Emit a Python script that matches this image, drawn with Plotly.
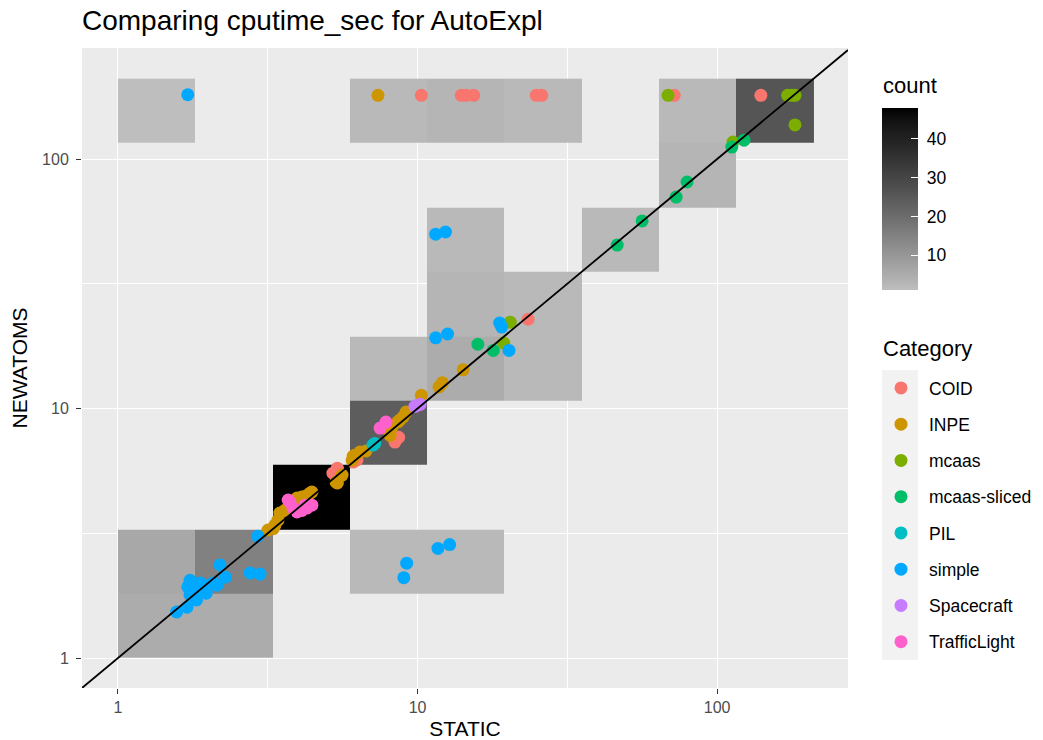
import numpy as np
import plotly.graph_objects as go

# ---------------- data ----------------
categories = ["COID", "INPE", "mcaas", "mcaas-sliced", "PIL", "simple", "Spacecraft", "TrafficLight"]
cat_colors = ["#F8766D", "#CD9600", "#7CAE00", "#00BE67", "#00BFC4", "#00A9FF", "#C77CFF", "#FF61CC"]

coid_x = [10.3, 14.0, 14.5, 15.4, 24.9, 26.0, 71.9, 140, 23.4, 8.41, 8.65, 6.28, 6.1, 5.43, 5.4, 5.22]
coid_y = [180, 180, 180, 180, 180, 180, 180, 180, 22.8, 7.34, 7.67, 6.22, 6.1, 5.61, 5.77, 5.51]

inpe_x = [7.38, 14.2, 12.1, 11.8, 10.3, 9.16, 8.95, 8.74, 8.6, 8.22, 8.0, 8.1, 6.73, 6.43, 6.18, 6.1, 6.05,
          5.6, 5.35, 5.4, 4.44, 4.38, 4.15, 4.11, 3.96, 3.81, 3.6, 3.47, 3.42, 3.34, 3.3, 3.17, 4.3, 3.7]
inpe_y = [180, 14.3, 12.7, 12.2, 11.3, 9.68, 9.25, 9.0, 8.85, 8.43, 8.2, 7.8, 6.76, 6.7, 6.5, 6.45, 6.2,
          5.41, 5.07, 5.03, 4.63, 4.58, 4.42, 4.42, 4.38, 4.1, 3.9, 3.81, 3.57, 3.41, 3.3, 3.26, 4.5, 4.0]

mcaas_x = [68.6, 172, 178, 182, 182, 113, 19.4, 20.4]
mcaas_y = [180, 180, 180, 180, 137, 117, 18.3, 22.2]

mcaas_sliced_x = [112, 123, 79.4, 73, 56.2, 46.4, 15.9, 17.9]
mcaas_sliced_y = [111.7, 119, 80.9, 70.4, 56.5, 45.2, 18.1, 17.1]

pil_x = [7.1, 7.2]
pil_y = [7.14, 7.25]

simple_x = [1.71, 11.5, 12.4, 11.5, 12.6, 20.2, 18.8, 19.1, 9.0, 9.2, 11.7, 12.8,
            1.57, 1.70, 1.83, 1.74, 1.71, 1.74, 1.88, 1.97, 2.08, 2.14, 2.28, 2.19, 2.76, 2.98, 2.93,
            1.77, 1.85, 1.80, 2.0]
simple_y = [181, 50, 51, 19.2, 19.9, 17.1, 22.0, 21.2, 2.1, 2.4, 2.75, 2.85,
            1.53, 1.60, 1.71, 1.79, 1.93, 2.05, 2.0, 1.82, 2.0, 1.96, 2.11, 2.36, 2.19, 2.17, 3.08,
            1.85, 1.9, 1.95, 1.95]

spacecraft_x = [9.8, 9.96, 10.2]
spacecraft_y = [10.2, 10.3, 10.4]

trafficlight_x = [7.85, 7.5, 3.75, 3.96, 4.27, 4.44, 3.84, 4.21, 4.1, 3.7, 4.3]
trafficlight_y = [8.83, 8.35, 4.22, 3.85, 3.99, 4.1, 3.99, 4.1, 3.9, 4.3, 4.05]

series_x = [coid_x, inpe_x, mcaas_x, mcaas_sliced_x, pil_x, simple_x, spacecraft_x, trafficlight_x]
series_y = [coid_y, inpe_y, mcaas_y, mcaas_sliced_y, pil_y, simple_y, spacecraft_y, trafficlight_y]

# 2D bins (log10 width), index pairs and counts
bin_log_width = 0.258
n_bins = 9
bin_ix = [0, 1, 0, 1, 2, 3, 3, 4, 3, 4, 4, 5, 5, 4, 6, 7, 7, 8, 0, 3, 4, 5]
bin_iy = [0, 0, 1, 1, 2, 3, 1, 1, 4, 4, 5, 4, 5, 6, 6, 7, 8, 8, 8, 8, 8, 8]
bin_count = [5, 5, 6, 15, 48, 24, 2, 2, 2, 5, 3, 2, 2, 2, 2, 3, 2, 26, 1, 2, 3, 2]

count_ticks = [10, 20, 30, 40]
count_ticktext = ["\u00a010", "\u00a020", "\u00a030", "\u00a040"]
axis_tickvals = [1, 10, 100]
axis_ticktext = ["1", "10", "100"]

# ---------------- styling helpers ----------------
W, H = 1043, 740
ml, mr, mt, mb = 82, 195, 48, 52
pw, ph = W - ml - mr, H - mt - mb
FONT = "Liberation Sans"


def px2paper_x(px):
    return (px - ml) / pw


def px2paper_y(py):
    return (H - mb - py) / ph


def lab_gray(L):
    fy = (L + 16) / 116
    Y = fy ** 3 if fy > 6 / 29 else (fy - 16 / 116) * 3 * (6 / 29) ** 2
    c = 1.055 * Y ** (1 / 2.4) - 0.055 if Y > 0.0031308 else 12.92 * Y
    v = int(round(max(0, min(1, c)) * 255))
    return "rgb(%d,%d,%d)" % (v, v, v)


L_low = 76.97  # grey (#BEBEBE) -> black, interpolated in Lab
colorscale = [[t, lab_gray(L_low * (1 - t))] for t in np.linspace(0, 1, 21)]

# ---------------- build figure ----------------
edges = 10 ** (np.arange(n_bins + 1) * bin_log_width)
z = [[None] * n_bins for _ in range(n_bins)]
for i, j, c in zip(bin_ix, bin_iy, bin_count):
    z[j][i] = c

fig = go.Figure()
fig.add_trace(go.Heatmap(
    x=edges, y=edges, z=z, zmin=1, zmax=48, colorscale=colorscale,
    showscale=True, hoverinfo="skip",
    colorbar=dict(
        x=px2paper_x(882), xanchor="left", xpad=0,
        y=px2paper_y(108), yanchor="top", ypad=0,
        lenmode="pixels", len=182, thickness=36, thicknessmode="pixels",
        outlinewidth=0, tickvals=count_ticks, ticktext=count_ticktext,
        ticks="inside", ticklen=7, tickcolor="white", tickwidth=1.2,
        tickfont=dict(size=17.5, color="black", family=FONT),
    ),
))

for name, col, xs, ys in zip(categories, cat_colors, series_x, series_y):
    fig.add_trace(go.Scatter(
        x=xs, y=ys, mode="markers", name=name, legendgroup=name,
        marker=dict(color=col, size=13, line=dict(width=0)),
    ))

xrange_log = [-0.12, 2.437]
yrange_log = [-0.12, 2.445]
line_x = 10 ** np.array(xrange_log)
fig.add_trace(go.Scatter(x=line_x, y=line_x, mode="lines", showlegend=False,
                         line=dict(color="black", width=1.8), hoverinfo="skip"))

axis_common = dict(
    type="log", tickvals=axis_tickvals, ticktext=axis_ticktext,
    showgrid=True, gridcolor="white", gridwidth=1.4, zeroline=False,
    ticks="outside", ticklen=5, tickwidth=1.2, tickcolor="#333333",
    tickfont=dict(size=16, color="#4D4D4D", family=FONT),
    showline=False,
    minor=dict(tickvals=[10 ** 0.5, 10 ** 1.5], showgrid=True, gridcolor="white",
               gridwidth=0.7, ticks=""),
)

fig.update_layout(
    width=W, height=H,
    margin=dict(l=ml, r=mr, t=mt, b=mb, autoexpand=False),
    paper_bgcolor="white", plot_bgcolor="#EBEBEB",
    font=dict(family=FONT, color="black"),
    title=dict(text="Comparing cputime_sec for AutoExpl", x=px2paper_x(82), xref="paper", xanchor="left",
               y=1 - 20 / H, yref="container", yanchor="middle",
               font=dict(size=28, color="black", family=FONT)),
    xaxis=dict(axis_common, range=xrange_log,
               title=dict(text="STATIC", font=dict(size=21, color="black"), standoff=8)),
    yaxis=dict(axis_common, range=yrange_log, ticklabelstandoff=4,
               title=dict(text="NEWATOMS", font=dict(size=21, color="black"), standoff=8)),
    legend=dict(
        font=dict(size=17.5, color="black"),
        x=px2paper_x(873), xanchor="left", y=px2paper_y(370), yanchor="top",
        bgcolor="rgba(0,0,0,0)", tracegroupgap=10.5, itemwidth=46,
    ),
    annotations=[
        dict(text="count", xref="paper", yref="paper", x=px2paper_x(881), y=px2paper_y(86),
             xanchor="left", yanchor="middle", showarrow=False,
             font=dict(size=22, color="black", family=FONT)),
        dict(text="Category", xref="paper", yref="paper", x=px2paper_x(881), y=px2paper_y(348),
             xanchor="left", yanchor="middle", showarrow=False,
             font=dict(size=22, color="black", family=FONT)),
    ],
    shapes=[dict(type="rect", xref="paper", yref="paper",
                 x0=px2paper_x(882), x1=px2paper_x(918),
                 y0=px2paper_y(660), y1=px2paper_y(370),
                 fillcolor="#F2F2F2", line=dict(width=0), layer="below")],
)

fig.write_html("out.html", config={"displayModeBar": False},
               post_script="document.body.style.margin='0px';")
